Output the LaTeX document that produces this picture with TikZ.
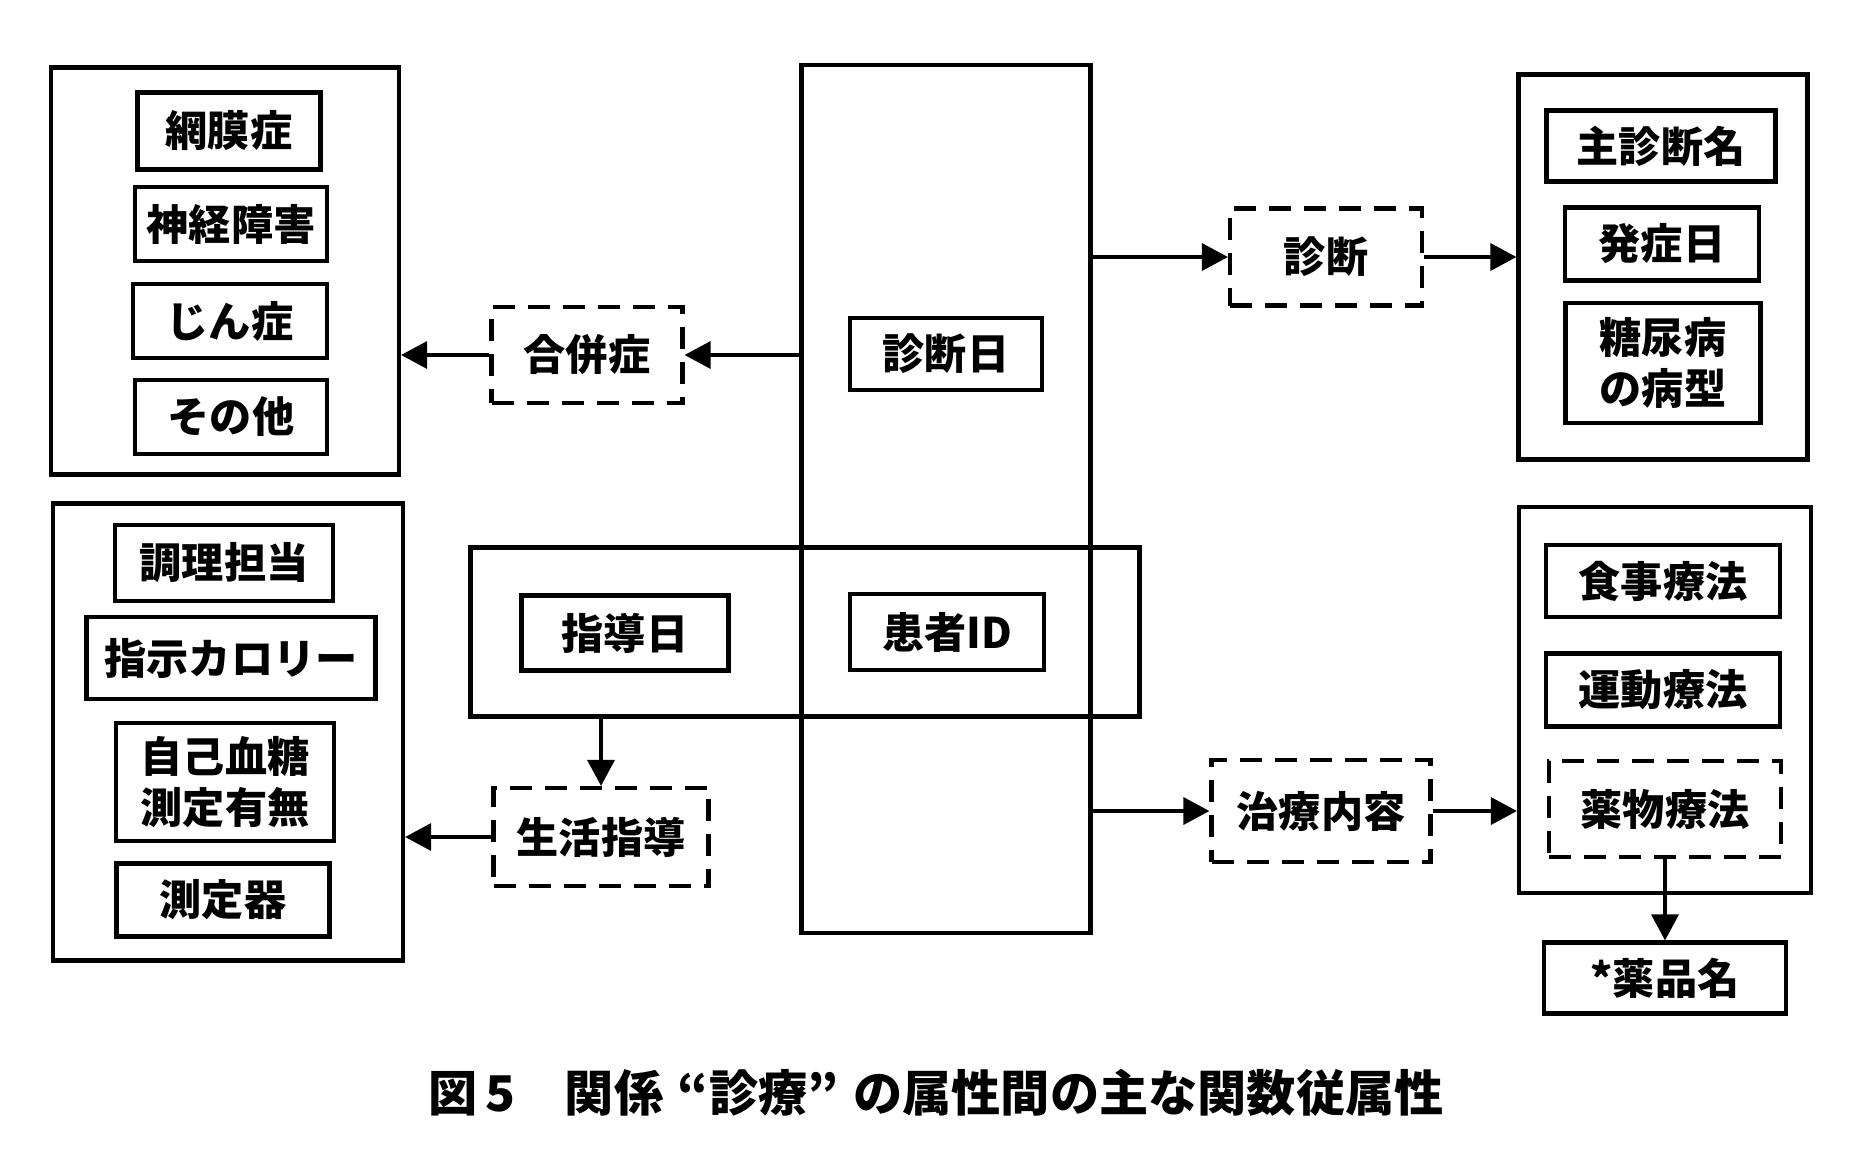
\documentclass[tikz,border=0pt]{standalone}
\usepackage{fontspec}
\setmainfont{Noto Sans CJK JP}
\usetikzlibrary{arrows.meta}
\usetikzlibrary{positioning}

\begin{document}
\begin{tikzpicture}[
  x=0.1mm, y=-0.1mm,
  font=\fontsize{12}{14.5}\selectfont\bfseries,
  attr/.style={draw, line width=1.2pt, inner sep=0pt, align=center},
  rel/.style={draw, dash pattern=on 2.2mm off 1.3mm, line width=1.2pt, inner sep=0pt, align=center},
  grp/.style={draw, line width=1.2pt, inner sep=0pt},
  ]
\useasboundingbox (0,0) rectangle (1858,1156);

% complications
\node [grp, minimum width=34.8mm, minimum height=40.7mm] (comp) at (225,271) {};
\node [attr, minimum width=18.3mm, minimum height=7.7mm] (c1) at (229,131) {網膜症};
\node [attr, minimum width=19.2mm, minimum height=7.4mm] (c2) at (231,224) {神経障害};
\node [attr, minimum width=19.4mm, minimum height=7.4mm] (c3) at (230,321) {じん症};
\node [attr, minimum width=19.2mm, minimum height=7.4mm] (c4) at (231,417) {その他};
\node [rel, minimum width=19.1mm, minimum height=9.6mm] (gap) at (587,355) {合併症};

% guidance
\node [grp, minimum width=35mm, minimum height=45.7mm] (guid) at (228,732) {};
\node [attr, minimum width=21.8mm, minimum height=7.6mm] (g1) at (224,563) {調理担当};
\node [attr, minimum width=28.9mm, minimum height=8.2mm] (g2) at (231,658) {指示カロリー};
\node [attr, minimum width=21.8mm, minimum height=11.8mm] (g3) at (225,782) {自己血糖\\測定有無};
\node [attr, minimum width=21.3mm, minimum height=7.3mm] (g4) at (223,900) {測定器};
\node [rel, minimum width=21.5mm, minimum height=9.8mm] (life) at (601,837) {生活指導};

% keys
\node [grp, minimum width=28.9mm, minimum height=86.8mm] (tall) at (946,499) {};
\node [grp, minimum width=66.9mm, minimum height=16.9mm] (wide) at (805,632) {};
\node [attr, minimum width=19.2mm, minimum height=7.2mm] (ddate) at (946,354) {診断日};
\node [attr, minimum width=20.7mm, minimum height=7.5mm] (gdate) at (625,633) {指導日};
\node [attr, minimum width=19.4mm, minimum height=7.6mm] (pid) at (947,632) {患者ID};

% diagnosis
\node [rel, minimum width=19.2mm, minimum height=9.7mm] (diag) at (1326,257) {診断};
\node [grp, minimum width=28.9mm, minimum height=38.5mm] (dgrp) at (1663,267) {};
\node [attr, minimum width=22.9mm, minimum height=7.1mm] (d1) at (1661,146) {主診断名};
\node [attr, minimum width=19.4mm, minimum height=7.3mm] (d2) at (1662,244) {発症日};
\node [attr, minimum width=19.5mm, minimum height=12mm] (d3) at (1663,363) {糖尿病\\の病型};

% treatment
\node [rel, minimum width=21.9mm, minimum height=10.2mm] (cure) at (1321,811) {治療内容};
\node [grp, minimum width=29.2mm, minimum height=38.6mm] (tgrp) at (1665,700) {};
\node [attr, minimum width=23.4mm, minimum height=7.2mm] (t1) at (1663,581) {食事療法};
\node [attr, minimum width=23.4mm, minimum height=7.3mm] (t2) at (1663,690) {運動療法};
\node [rel, minimum width=23.2mm, minimum height=9.6mm] (drug) at (1665,809) {薬物療法};
\node [attr, minimum width=24.2mm, minimum height=7.1mm] (med) at (1665,978) {*薬品名};

\path [-{Triangle[length=2.6mm, width=2.7mm]}, line width=1pt]
(tall.west |- gap.east) edge (gap.east)
(gap.west) edge (comp.east |- gap.west)
(wide.south -| life.north) edge (life.north)
(life.west) edge (guid.east |- life.west)
(tall.east |- diag.west) edge (diag.west)
(diag.east) edge (dgrp.west |- diag.east)
(tall.east |- cure.west) edge (cure.west)
(cure.east) edge (tgrp.west |- cure.east)
(drug.south) edge (med.north);

\node (cap) at (936,1093) {\fontsize{14}{16}\selectfont 図\,5\quad 関係\hspace{0.3em}“診療”\hspace{0.3em}の属性間の主な関数従属性};
\end{tikzpicture}
\end{document}
